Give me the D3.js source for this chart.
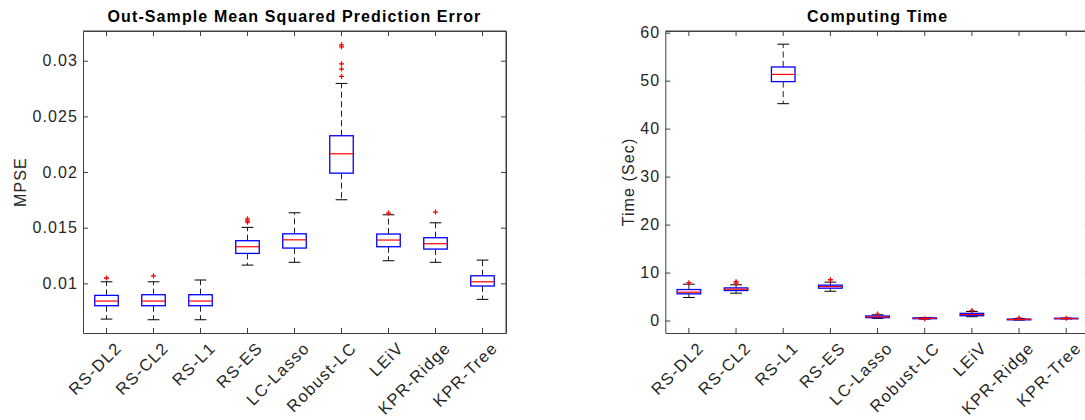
<!DOCTYPE html>
<html lang="en">
<head>
    <meta charset="UTF-8">
    <title>MPSE and Computing Time</title>
    <script src="https://d3js.org/d3.v7.min.js"></script>
    <style type="text/css">
        body {
            margin: 0;
            background-color: #ffffff;
        }

        text {
            font-family: "Liberation Sans", Arial, Helvetica, sans-serif;
            fill: #262626;
        }

        .axis path, .axis line {
            stroke: #404040;
        }

        .axis text {
            font-size: 16px;
            letter-spacing: 1.1px;
            fill: #262626;
        }

        .title {
            font-size: 16px;
            font-weight: bold;
            letter-spacing: 1.1px;
            fill: #000000;
            text-anchor: middle;
        }

        .label {
            font-size: 16px;
            letter-spacing: 1.1px;
            text-anchor: middle;
        }

        .cat {
            font-size: 16.5px;
            letter-spacing: 1.3px;
            text-anchor: end;
        }
    </style>
</head>
<body>
    <script type="text/javascript">
        //CONSTANTS & GLOBALS
        const width = 1085;
        const height = 420;

        //DATA - categories shared by both panels
        const categories = ["RS-DL2", "RS-CL2", "RS-L1", "RS-ES", "LC-Lasso", "Robust-LC", "LEiV", "KPR-Ridge", "KPR-Tree"];

        //left panel: MPSE box stats (lower whisker, q1, median, q3, upper whisker)
        const mpseLow  = [0.00679, 0.00673, 0.00673, 0.01164, 0.01189, 0.01751, 0.01203, 0.01189, 0.00856];
        const mpseQ1   = [0.00799, 0.00799, 0.00799, 0.01269, 0.01317, 0.01990, 0.01329, 0.01308, 0.00976];
        const mpseMed  = [0.00841, 0.00841, 0.00841, 0.01329, 0.01391, 0.02164, 0.01389, 0.01356, 0.01014];
        const mpseQ3   = [0.00892, 0.00898, 0.00898, 0.01383, 0.01445, 0.02326, 0.01443, 0.01410, 0.01068];
        const mpseHigh = [0.01014, 0.01014, 0.01030, 0.01503, 0.01634, 0.02796, 0.01616, 0.01544, 0.01209];
        const mpseOut  = [[0.01048], [0.01068], [], [0.0158, 0.01562, 0.0155], [],
                          [0.03143, 0.03125, 0.02972, 0.02925, 0.02859], [0.01631], [0.0164], []];
        const mpseTicks = [0.01, 0.015, 0.02, 0.025, 0.03];
        const mpseTickLabels = ["0.01", "0.015", "0.02", "0.025", "0.03"];

        //right panel: computing time box stats (seconds)
        const timeLow  = [4.80, 5.70, 45.2, 6.10, 0.45, 0.30, 0.80, 0.10, 0.35];
        const timeQ1   = [5.56, 6.25, 49.8, 6.74, 0.60, 0.38, 1.00, 0.15, 0.38];
        const timeMed  = [5.90, 6.53, 51.3, 7.08, 0.75, 0.45, 1.25, 0.22, 0.42];
        const timeQ3   = [6.46, 6.80, 52.85, 7.37, 0.95, 0.55, 1.50, 0.30, 0.47];
        const timeHigh = [7.58, 7.44, 57.6, 8.00, 1.20, 0.62, 1.90, 0.40, 0.50];
        const timeOut  = [[7.9], [8.1, 7.8], [], [8.5], [1.35], [0.35], [2.1], [0.55], [0.5]];
        const timeTicks = [0, 10, 20, 30, 40, 50, 60];

        //CREATE SVG
        const svg = d3.select("body")
            .append("svg")
            .attr("width", width)
            .attr("height", height);

        function drawPanel(cfg) {
            const left = cfg.left, right = cfg.right, top = 31, bottom = 333;

            const xScale = d3.scaleBand()
                .domain(categories)
                .range([left, right]);
            const bw = xScale.bandwidth();
            const cx = c => xScale(c) + bw / 2;

            const yScale = d3.scaleLinear()
                .domain(cfg.domain)
                .range([bottom, top]);

            const g = svg.append("g");

            //frame lines
            g.append("line").attr("x1", left).attr("x2", right).attr("y1", top).attr("y2", top)
                .attr("stroke", "#404040");
            g.append("line").attr("x1", right).attr("x2", right).attr("y1", top).attr("y2", bottom)
                .attr("stroke", "#404040");

            //Y AXIS (ticks pointing in)
            g.append("g")
                .attr("class", "axis")
                .attr("transform", "translate(" + left + ",0)")
                .call(d3.axisLeft(yScale)
                    .tickValues(cfg.yTicks)
                    .tickFormat((d, i) => cfg.yLabels[i])
                    .tickSizeInner(-5).tickSizeOuter(0).tickPadding(5));

            g.append("g")
                .attr("class", "axis")
                .attr("transform", "translate(" + right + ",0)")
                .call(d3.axisRight(yScale)
                    .tickValues(cfg.yTicks)
                    .tickFormat("")
                    .tickSizeInner(-5).tickSizeOuter(0));

            //X AXIS
            g.append("g")
                .attr("class", "axis")
                .attr("transform", "translate(0," + bottom + ")")
                .call(d3.axisBottom(xScale)
                    .tickFormat("")
                    .tickSizeInner(-5).tickSizeOuter(0));

            g.append("g")
                .attr("class", "axis")
                .attr("transform", "translate(0," + top + ")")
                .call(d3.axisTop(xScale)
                    .tickFormat("")
                    .tickSizeInner(-5).tickSizeOuter(0));

            //rotated category labels
            g.selectAll(".cat")
                .data(categories)
                .join("text")
                .attr("class", "cat")
                .attr("transform", d => "translate(" + (cx(d) + 12) + "," + (bottom + 12) + ") rotate(-45)")
                .attr("dy", "0.35em")
                .text(d => d);

            //BOXES
            const boxes = g.selectAll(".box")
                .data(categories)
                .join("g")
                .attr("class", "box");

            //dashed whiskers
            boxes.append("line")
                .attr("x1", d => cx(d)).attr("x2", d => cx(d))
                .attr("y1", (d, i) => yScale(cfg.q3[i])).attr("y2", (d, i) => yScale(cfg.high[i]))
                .attr("stroke", "#222").attr("stroke-dasharray", "6,3.5");
            boxes.append("line")
                .attr("x1", d => cx(d)).attr("x2", d => cx(d))
                .attr("y1", (d, i) => yScale(cfg.q1[i])).attr("y2", (d, i) => yScale(cfg.low[i]))
                .attr("stroke", "#222").attr("stroke-dasharray", "6,3.5");

            //whisker caps
            boxes.append("line")
                .attr("x1", d => cx(d) - bw / 8).attr("x2", d => cx(d) + bw / 8)
                .attr("y1", (d, i) => yScale(cfg.high[i])).attr("y2", (d, i) => yScale(cfg.high[i]))
                .attr("stroke", "#000");
            boxes.append("line")
                .attr("x1", d => cx(d) - bw / 8).attr("x2", d => cx(d) + bw / 8)
                .attr("y1", (d, i) => yScale(cfg.low[i])).attr("y2", (d, i) => yScale(cfg.low[i]))
                .attr("stroke", "#000");

            //box
            boxes.append("rect")
                .attr("x", d => cx(d) - bw / 4)
                .attr("width", bw / 2)
                .attr("y", (d, i) => yScale(cfg.q3[i]))
                .attr("height", (d, i) => Math.max(yScale(cfg.q1[i]) - yScale(cfg.q3[i]), 0.5))
                .attr("fill", "none")
                .attr("stroke", "#0000ff")
                .attr("stroke-width", 1.3);

            //median
            boxes.append("line")
                .attr("x1", d => cx(d) - bw / 4).attr("x2", d => cx(d) + bw / 4)
                .attr("y1", (d, i) => yScale(cfg.med[i])).attr("y2", (d, i) => yScale(cfg.med[i]))
                .attr("stroke", "#ff0000").attr("stroke-width", 1.2);

            //outliers as red plus signs
            boxes.each(function (d, i) {
                d3.select(this).selectAll(".out")
                    .data(cfg.out[i])
                    .join("path")
                    .attr("class", "out")
                    .attr("d", v => {
                        const x = cx(d), y = yScale(v), s = 2.5;
                        return "M" + (x - s) + "," + y + "H" + (x + s) + "M" + x + "," + (y - s) + "V" + (y + s);
                    })
                    .attr("stroke", "#ff0000")
                    .attr("stroke-width", 1.3);
            });

            //TITLE
            g.append("text")
                .attr("class", "title")
                .attr("x", (left + right) / 2)
                .attr("y", 22)
                .text(cfg.title);

            //Y LABEL
            g.append("text")
                .attr("class", "label")
                .attr("transform", "translate(" + cfg.yLabelX + "," + ((top + bottom) / 2) + ") rotate(-90)")
                .text(cfg.yLabel);
        }

        drawPanel({
            left: 83, right: 506,
            domain: [0.00554, 0.03267],
            yTicks: mpseTicks, yLabels: mpseTickLabels,
            low: mpseLow, q1: mpseQ1, med: mpseMed, q3: mpseQ3, high: mpseHigh, out: mpseOut,
            title: "Out-Sample Mean Squared Prediction Error",
            yLabel: "MPSE", yLabelX: 26
        });

        drawPanel({
            left: 665.3, right: 1089.8,
            domain: [-2.6, 60.35],
            yTicks: timeTicks, yLabels: timeTicks.map(String),
            low: timeLow, q1: timeQ1, med: timeMed, q3: timeQ3, high: timeHigh, out: timeOut,
            title: "Computing Time",
            yLabel: "Time (Sec)", yLabelX: 634
        });
    </script>
</body>
</html>
